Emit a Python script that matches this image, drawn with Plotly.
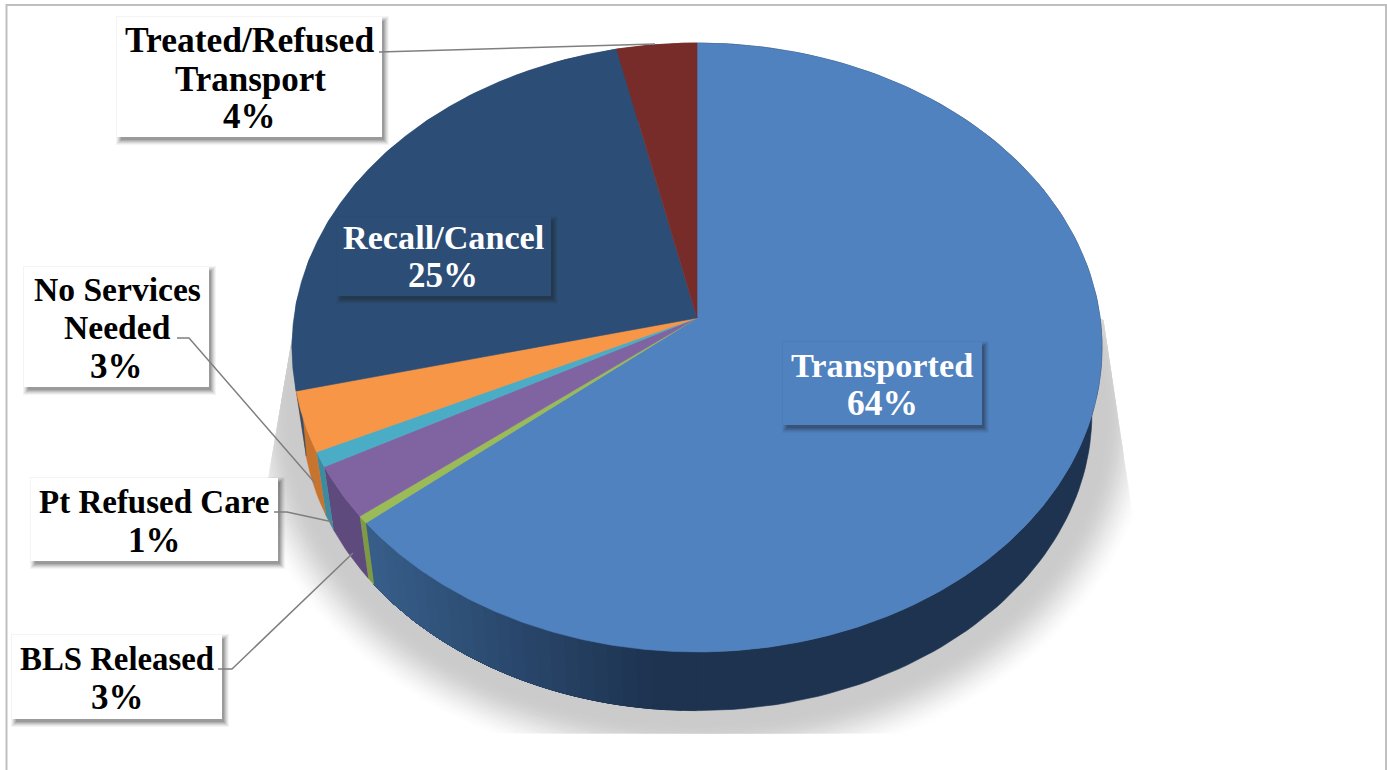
import numpy as np
import plotly.graph_objects as go

# ---- data ----
categories = ["Transported", "Unlabelled", "BLS Released", "Pt Refused Care",
              "No Services Needed", "Recall/Cancel", "Treated/Refused Transport"]
values = [64.0, 0.4, 2.8, 0.8, 3.2, 25.3, 3.5]
percent_text = ["64%", "", "3%", "1%", "3%", "25%", "4%"]

# ---- styles ----
face_colors = ["#5082c0", "#9bbb59", "#8064a2", "#4bacc6", "#f79646", "#2c4d75", "#772c2a"]
side_colors = ["#1d3350", "#7f9a45", "#5f4a7e", "#3c8ba0", "#c8742f", "#2c4d75", "#772c2a"]
FONT = "Liberation Serif"

# ---- pie geometry (pixel-space axes) ----
HX, HY = 697.0, 318.0
A, C, D = 301.6, 0.0969, 403.1
SCALE, DROP = 0.975, 67.0


def project(theta, scale=1.0, dy=0.0, grow=0.0):
    u, v = np.sin(theta), np.cos(theta)
    den = 1 + C * v
    x = D * u / den
    y = A * v / den
    return HX + x * scale + grow * u, HY - y * scale + dy - grow * v


fractions = np.cumsum([0] + values) / sum(values) * 2 * np.pi
fig = go.Figure()


def poly(x, y, color, name=None):
    fig.add_trace(go.Scatter(x=x, y=y, mode="lines", fill="toself", fillcolor=color,
                             line=dict(width=0.6, color=color), name=name or "",
                             hoverinfo="skip" if name is None else "name",
                             showlegend=False))


# soft shadow: stacked bands, clipped the way the source image is
full = np.linspace(0, 2 * np.pi, 361)
FADE_OUT, FADE_IN = 66.0, 14.0
for g in np.linspace(FADE_OUT, 0, 27):
    t = np.clip((FADE_OUT - g) / (FADE_OUT - FADE_IN), 0, 1)
    t = t * t * (3 - 2 * t)
    level = int(round(255 - (255 - 203) * t))
    sx, sy = project(full, SCALE, DROP, g)
    sy = np.clip(sy, 320, 733)
    sx = np.minimum(sx, 1100 + (sy - 300) * 0.15)
    sx = np.maximum(sx, 282 - (sy - 400) * 0.17)
    poly(sx, sy, f"rgb({level},{level},{level})")


def hexmix(a, b, t):
    ca = [int(a[i:i + 2], 16) for i in (1, 3, 5)]
    cb = [int(b[i:i + 2], 16) for i in (1, 3, 5)]
    return "rgb(%d,%d,%d)" % tuple(round(p + (q - p) * t) for p, q in zip(ca, cb))


# side wall: each band runs on to the end of its slice, so no seams appear between bands
for i in range(len(values)):
    a0, a1 = fractions[i], fractions[i + 1]
    if i == 0:
        # the dark right-hand part first, then the lighter gradient towards the left
        th = np.linspace(a0, a1, 160)
        xt, yt = project(th)
        xb, yb = project(th[::-1], SCALE, DROP)
        poly(np.r_[xt, xb], np.r_[yt, yb], side_colors[0])
        edges = np.linspace(a0, a1, 120)
        for e0 in edges[:-1]:
            xm = project(e0)[0]
            if xm > 700 or project(e0)[1] < 400:
                continue
            th = np.linspace(e0, a1, 40)
            xt, yt = project(th)
            xb, yb = project(th[::-1], SCALE, DROP)
            color = hexmix("#375e8a", "#1d3350", float(np.clip((xm - 370) / 290, 0, 1)))
            poly(np.r_[xt, xb], np.r_[yt, yb], color)
    else:
        th = np.linspace(a0, a1, 12)
        xt, yt = project(th)
        xb, yb = project(th[::-1], SCALE, DROP)
        poly(np.r_[xt, xb], np.r_[yt, yb], side_colors[i])

# top faces
for i in range(len(values)):
    th = np.linspace(fractions[i], fractions[i + 1], max(6, int(values[i] * 8)))
    xt, yt = project(th)
    poly(np.r_[HX, xt, HX], np.r_[HY, yt, HY], face_colors[i], categories[i])

# label boxes: x0, y0, x1, y1, fill
boxes = [
    (117, 17, 382, 137, "#ffffff"),
    (337, 217, 551, 296, "#2c4d75"),
    (24, 267, 209, 387, "#ffffff"),
    (31, 478, 278, 561, "#ffffff"),
    (12, 635, 222, 719, "#ffffff"),
    (783, 342, 982, 425, "#5082c0"),
]
# label lines: text, centre x, centre y, size, colour
label_lines = [
    ("Treated/Refused", 249, 40, 35.5, "#000000"),
    ("Transport", 250, 79, 35, "#000000"),
    ("4%", 249, 116, 35, "#000000"),
    ("Recall/Cancel", 443, 237, 34.2, "#ffffff"),
    ("25%", 443, 275, 35, "#ffffff"),
    ("No Services", 117, 289, 33.6, "#000000"),
    ("Needed", 117, 327, 33.6, "#000000"),
    ("3%", 116, 366, 35, "#000000"),
    ("Pt Refused Care", 154, 502, 33, "#000000"),
    ("1%", 154, 540, 35, "#000000"),
    ("BLS Released", 117, 659, 32.8, "#000000"),
    ("3%", 117, 697, 35, "#000000"),
    ("Transported", 882, 365, 34.3, "#ffffff"),
    ("64%", 882, 403, 35.5, "#ffffff"),
]
shapes = [dict(type="rect", xref="x", yref="y", x0=6.5, y0=5, x1=1386, y1=790,
               line=dict(color="#bfbfbf", width=2), layer="above")]
for x0, y0, x1, y1, fill in boxes:
    for k, alpha in ((8, 0.05), (7, 0.06), (6, 0.08), (5, 0.10), (4, 0.12), (3, 0.14)):
        shapes.append(dict(type="rect", xref="x", yref="y", x0=x0 + 7 - k, y0=y0 + 7 - k, x1=x1 + k - 1, y1=y1 + k,
                           line=dict(width=0), fillcolor=f"rgba(30,30,30,{alpha})", layer="above"))
    shapes.append(dict(type="rect", xref="x", yref="y", x0=x0, y0=y0, x1=x1, y1=y1,
                       line=dict(width=0), fillcolor=fill, layer="above"))

leaders = [
    [379, 52, 655, 44],
    [177, 338, 189, 338, 315, 483],
    [274, 512, 287, 512, 333, 522],
    [218, 669, 232, 669, 353, 553],
]
for pts in leaders:
    path = "M" + " L".join(f"{pts[j]},{pts[j + 1]}" for j in range(0, len(pts), 2))
    shapes.append(dict(type="path", xref="x", yref="y", path=path,
                       line=dict(color="#7f7f7f", width=1.5), layer="above"))

annotations = [dict(x=cx, y=cy, xref="x", yref="y", text=f"<b>{txt}</b>", showarrow=False,
                    align="center", font=dict(family=FONT, size=fs, color=col))
               for txt, cx, cy, fs, col in label_lines]

fig.update_layout(
    width=1387, height=770, margin=dict(l=0, r=0, t=0, b=0),
    paper_bgcolor="#ffffff", plot_bgcolor="#ffffff", showlegend=False,
    xaxis=dict(range=[0, 1387], visible=False, fixedrange=True),
    yaxis=dict(range=[770, 0], visible=False, fixedrange=True),
    shapes=shapes, annotations=annotations,
)
fig.write_html("out.html", config=dict(displayModeBar=False),
               post_script="document.body.style.margin='0';document.body.style.overflow='hidden';")
